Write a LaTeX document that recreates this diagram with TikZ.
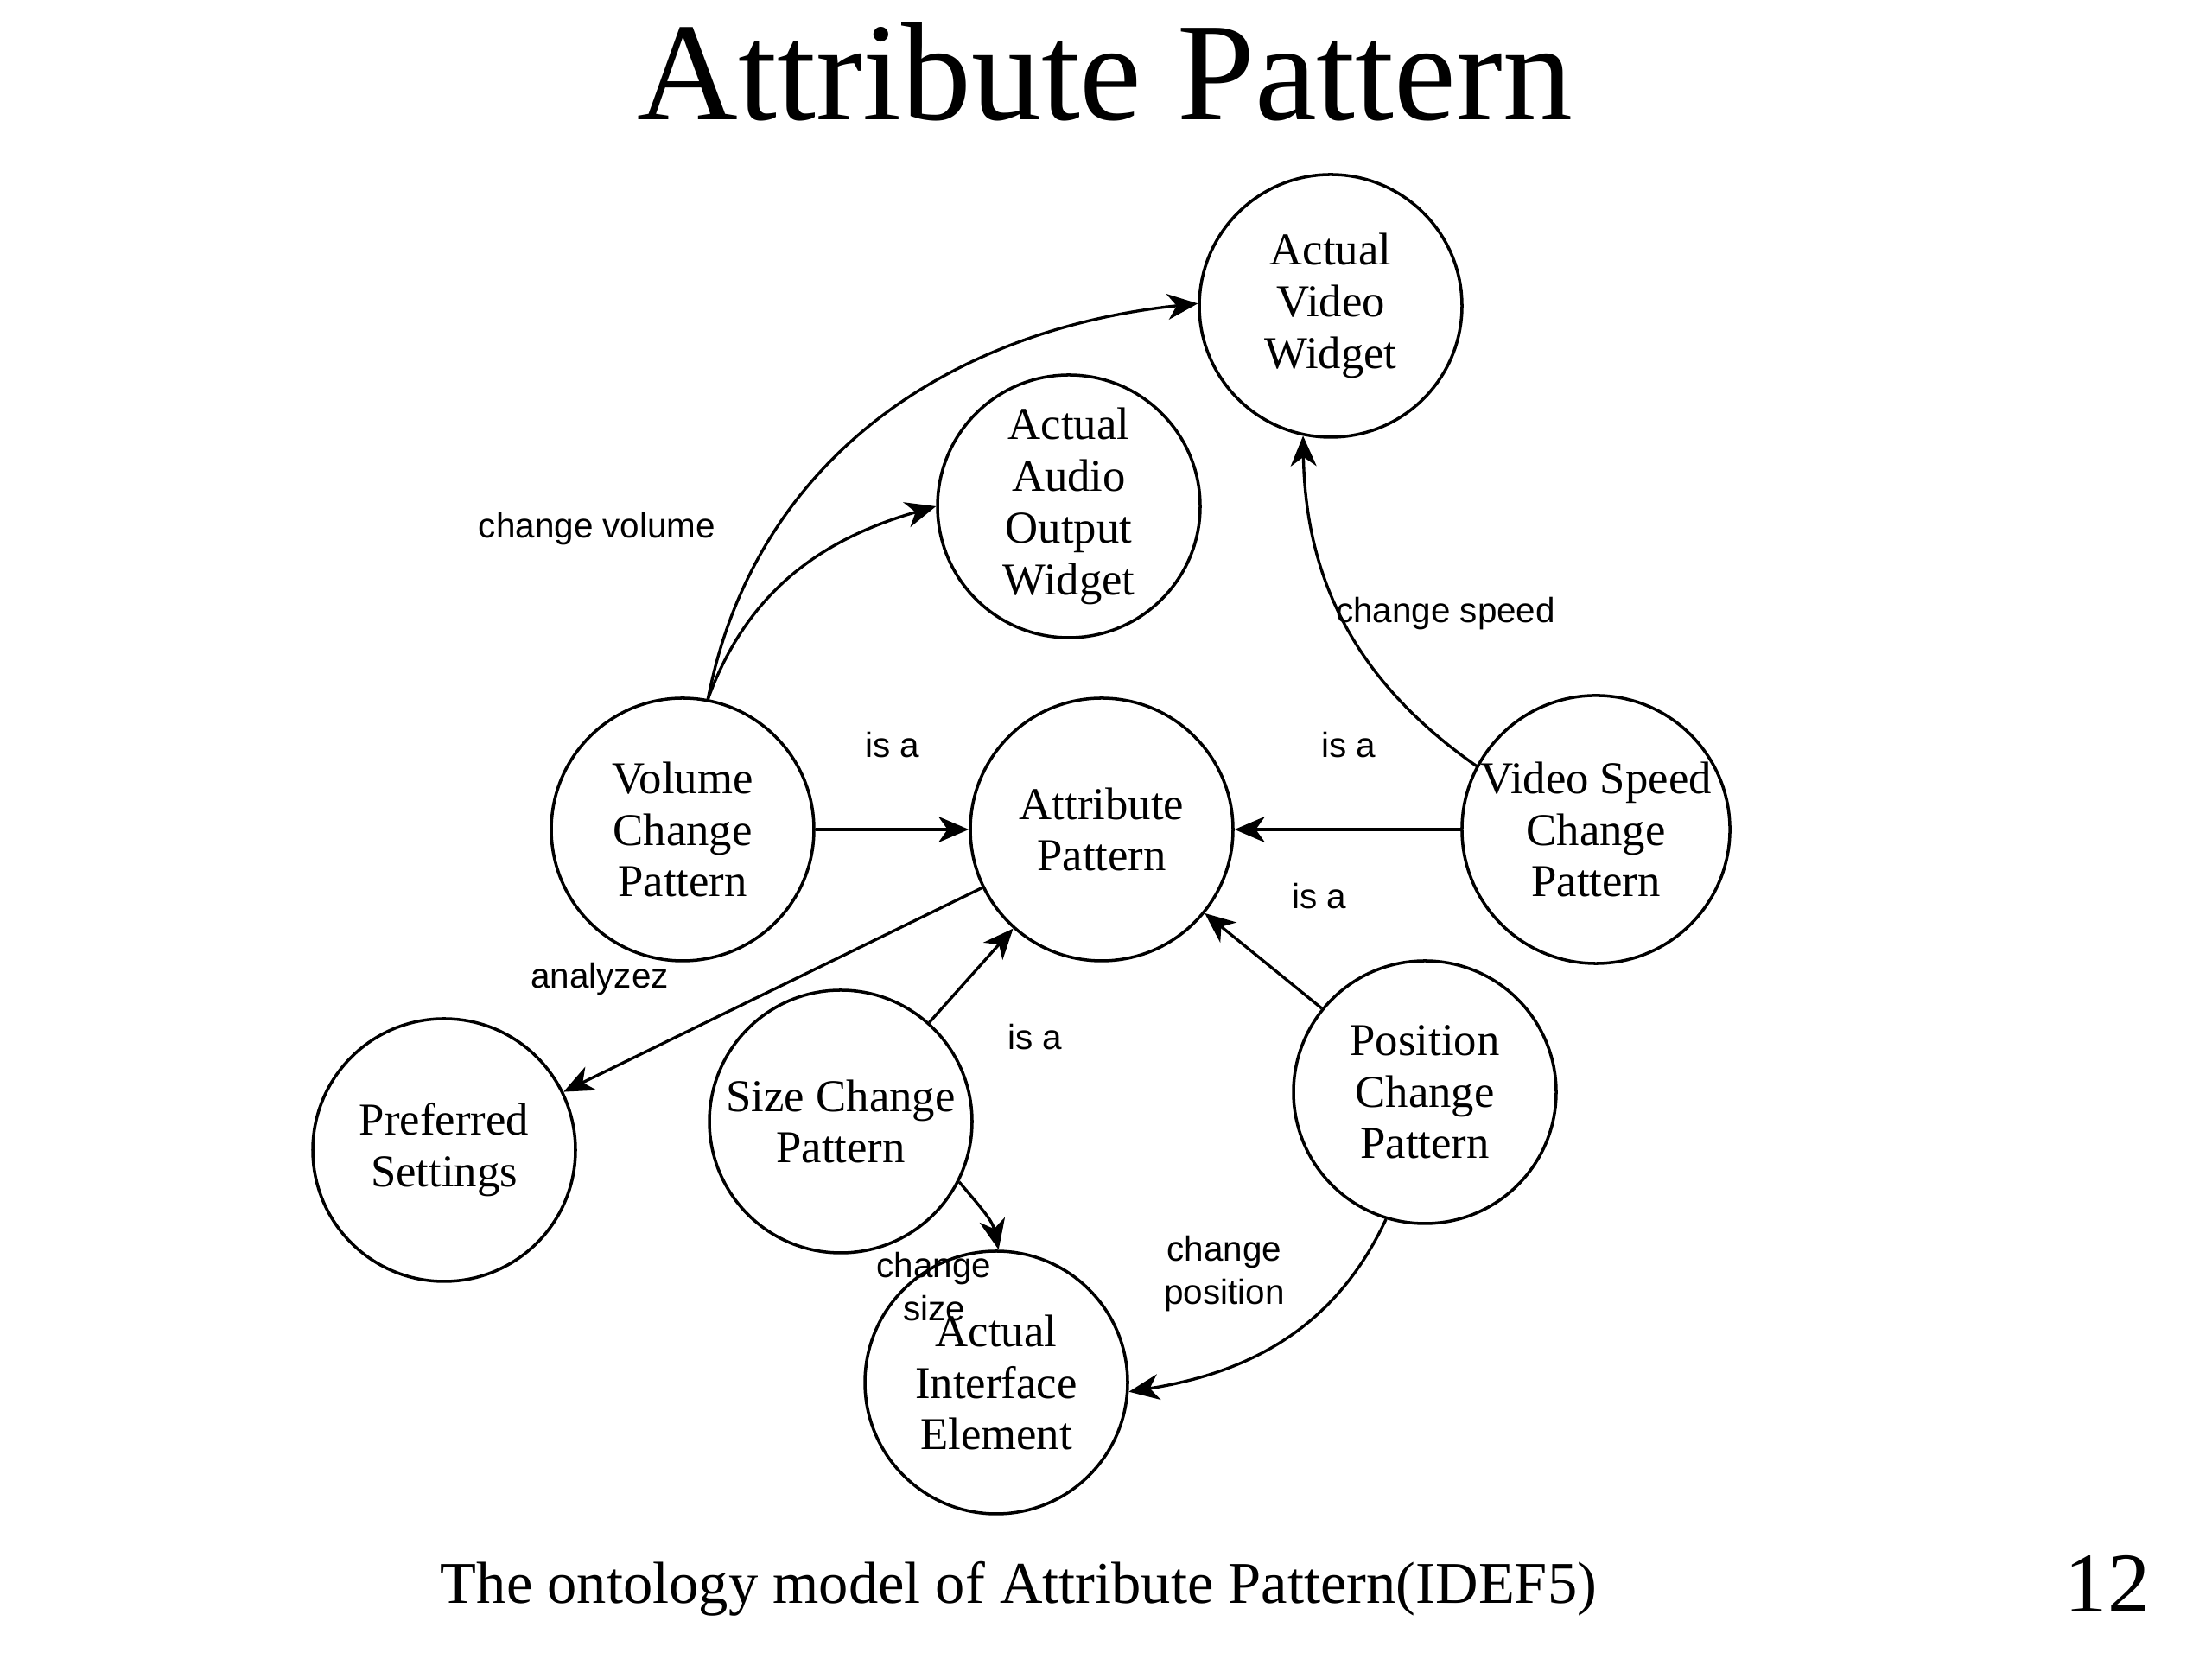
\documentclass[tikz,border=0pt]{standalone}
\usepackage{fontspec}
\setmainfont{Liberation Serif}
\newfontfamily\arialfont{Liberation Sans}
\usetikzlibrary{arrows.meta, positioning}

\begin{document}
\begin{tikzpicture}[
    concept/.style={circle, draw, line width=1pt, minimum size=3.04cm,
      inner sep=0pt, align=center, font=\fontsize{15}{17}\selectfont},
    rel/.style={-{Stealth[length=10pt, width=8.5pt, inset=3pt]}, line width=0.95pt},
    lbl/.style={font=\arialfont\fontsize{11.5}{14}\selectfont, align=center}]
  \useasboundingbox (0,0) rectangle (25.6,19.2);
  % title and footer
  \node[font=\fontsize{46}{50}\selectfont, anchor=base] (title) at (12.79,17.81) {Attribute Pattern};
  \node[font=\fontsize{19.5}{22}\selectfont, anchor=base] (caption) at (11.79,0.64)
       {The ontology model of Attribute Pattern(IDEF5)};
  \node[font=\fontsize{28}{30}\selectfont, anchor=base] (pagenum) at (24.39,0.54) {12};
  % concepts
  \node[concept] (avw)  at (15.40,15.66) {Actual\\Video\\Widget};
  \node[concept] (aaow) at (12.37,13.34) {Actual\\Audio\\Output\\Widget};
  \node[concept] (vcp)  at (7.90,9.60)   {Volume\\Change\\Pattern};
  \node[concept] (ap)   at (12.75,9.60)  {Attribute\\Pattern};
  \node[concept] (vscp) at (18.47,9.60)  {Video Speed\\Change\\Pattern};
  \node[concept] (ps)   at (5.14,5.89)   {Preferred\\Settings};
  \node[concept] (scp)  at (9.73,6.22)   {Size Change\\Pattern};
  \node[concept] (pcp)  at (16.49,6.56)  {Position\\Change\\Pattern};
  \node[concept] (aie)  at (11.53,3.20)  {Actual\\Interface\\Element};
  % relations
  \draw[rel] (vcp) -- (ap);
  \draw[rel] (vscp) -- (ap);
  \draw[rel] (pcp) -- (ap);
  \draw[rel] (scp) -- (ap);
  \draw[rel] (ap) -- (ps);
  \draw[rel] (vcp.79) to[out=79, in=186] (avw.179);
  \draw[rel] (vcp.79) to[out=70, in=196] (aaow.180);
  \draw[rel] (vscp.152) to[out=145, in=-89] (avw.-102);
  \draw[rel] (pcp.-107) to[out=-115, in=9] (aie.-4);
  \draw[rel] (scp.-27) to[out=-50, in=102] (aie.89);
  % labels
  \node[lbl] (l-vol)   at (6.91,13.08)  {change volume};
  \node[lbl] (l-speed) at (16.73,12.10) {change speed};
  \node[lbl] (l-isa1)  at (10.33,10.58) {is a};
  \node[lbl] (l-isa2)  at (15.61,10.58) {is a};
  \node[lbl] (l-isa3)  at (15.27,8.83)  {is a};
  \node[lbl] (l-isa4)  at (11.98,7.20)  {is a};
  \node[lbl] (l-anal)  at (6.94,7.87)   {analyzez};
  \node[lbl] (l-size)  at (10.81,4.31)  {change\\size};
  \node[lbl] (l-pos)   at (14.17,4.46)  {change\\position};
\end{tikzpicture}
\end{document}
